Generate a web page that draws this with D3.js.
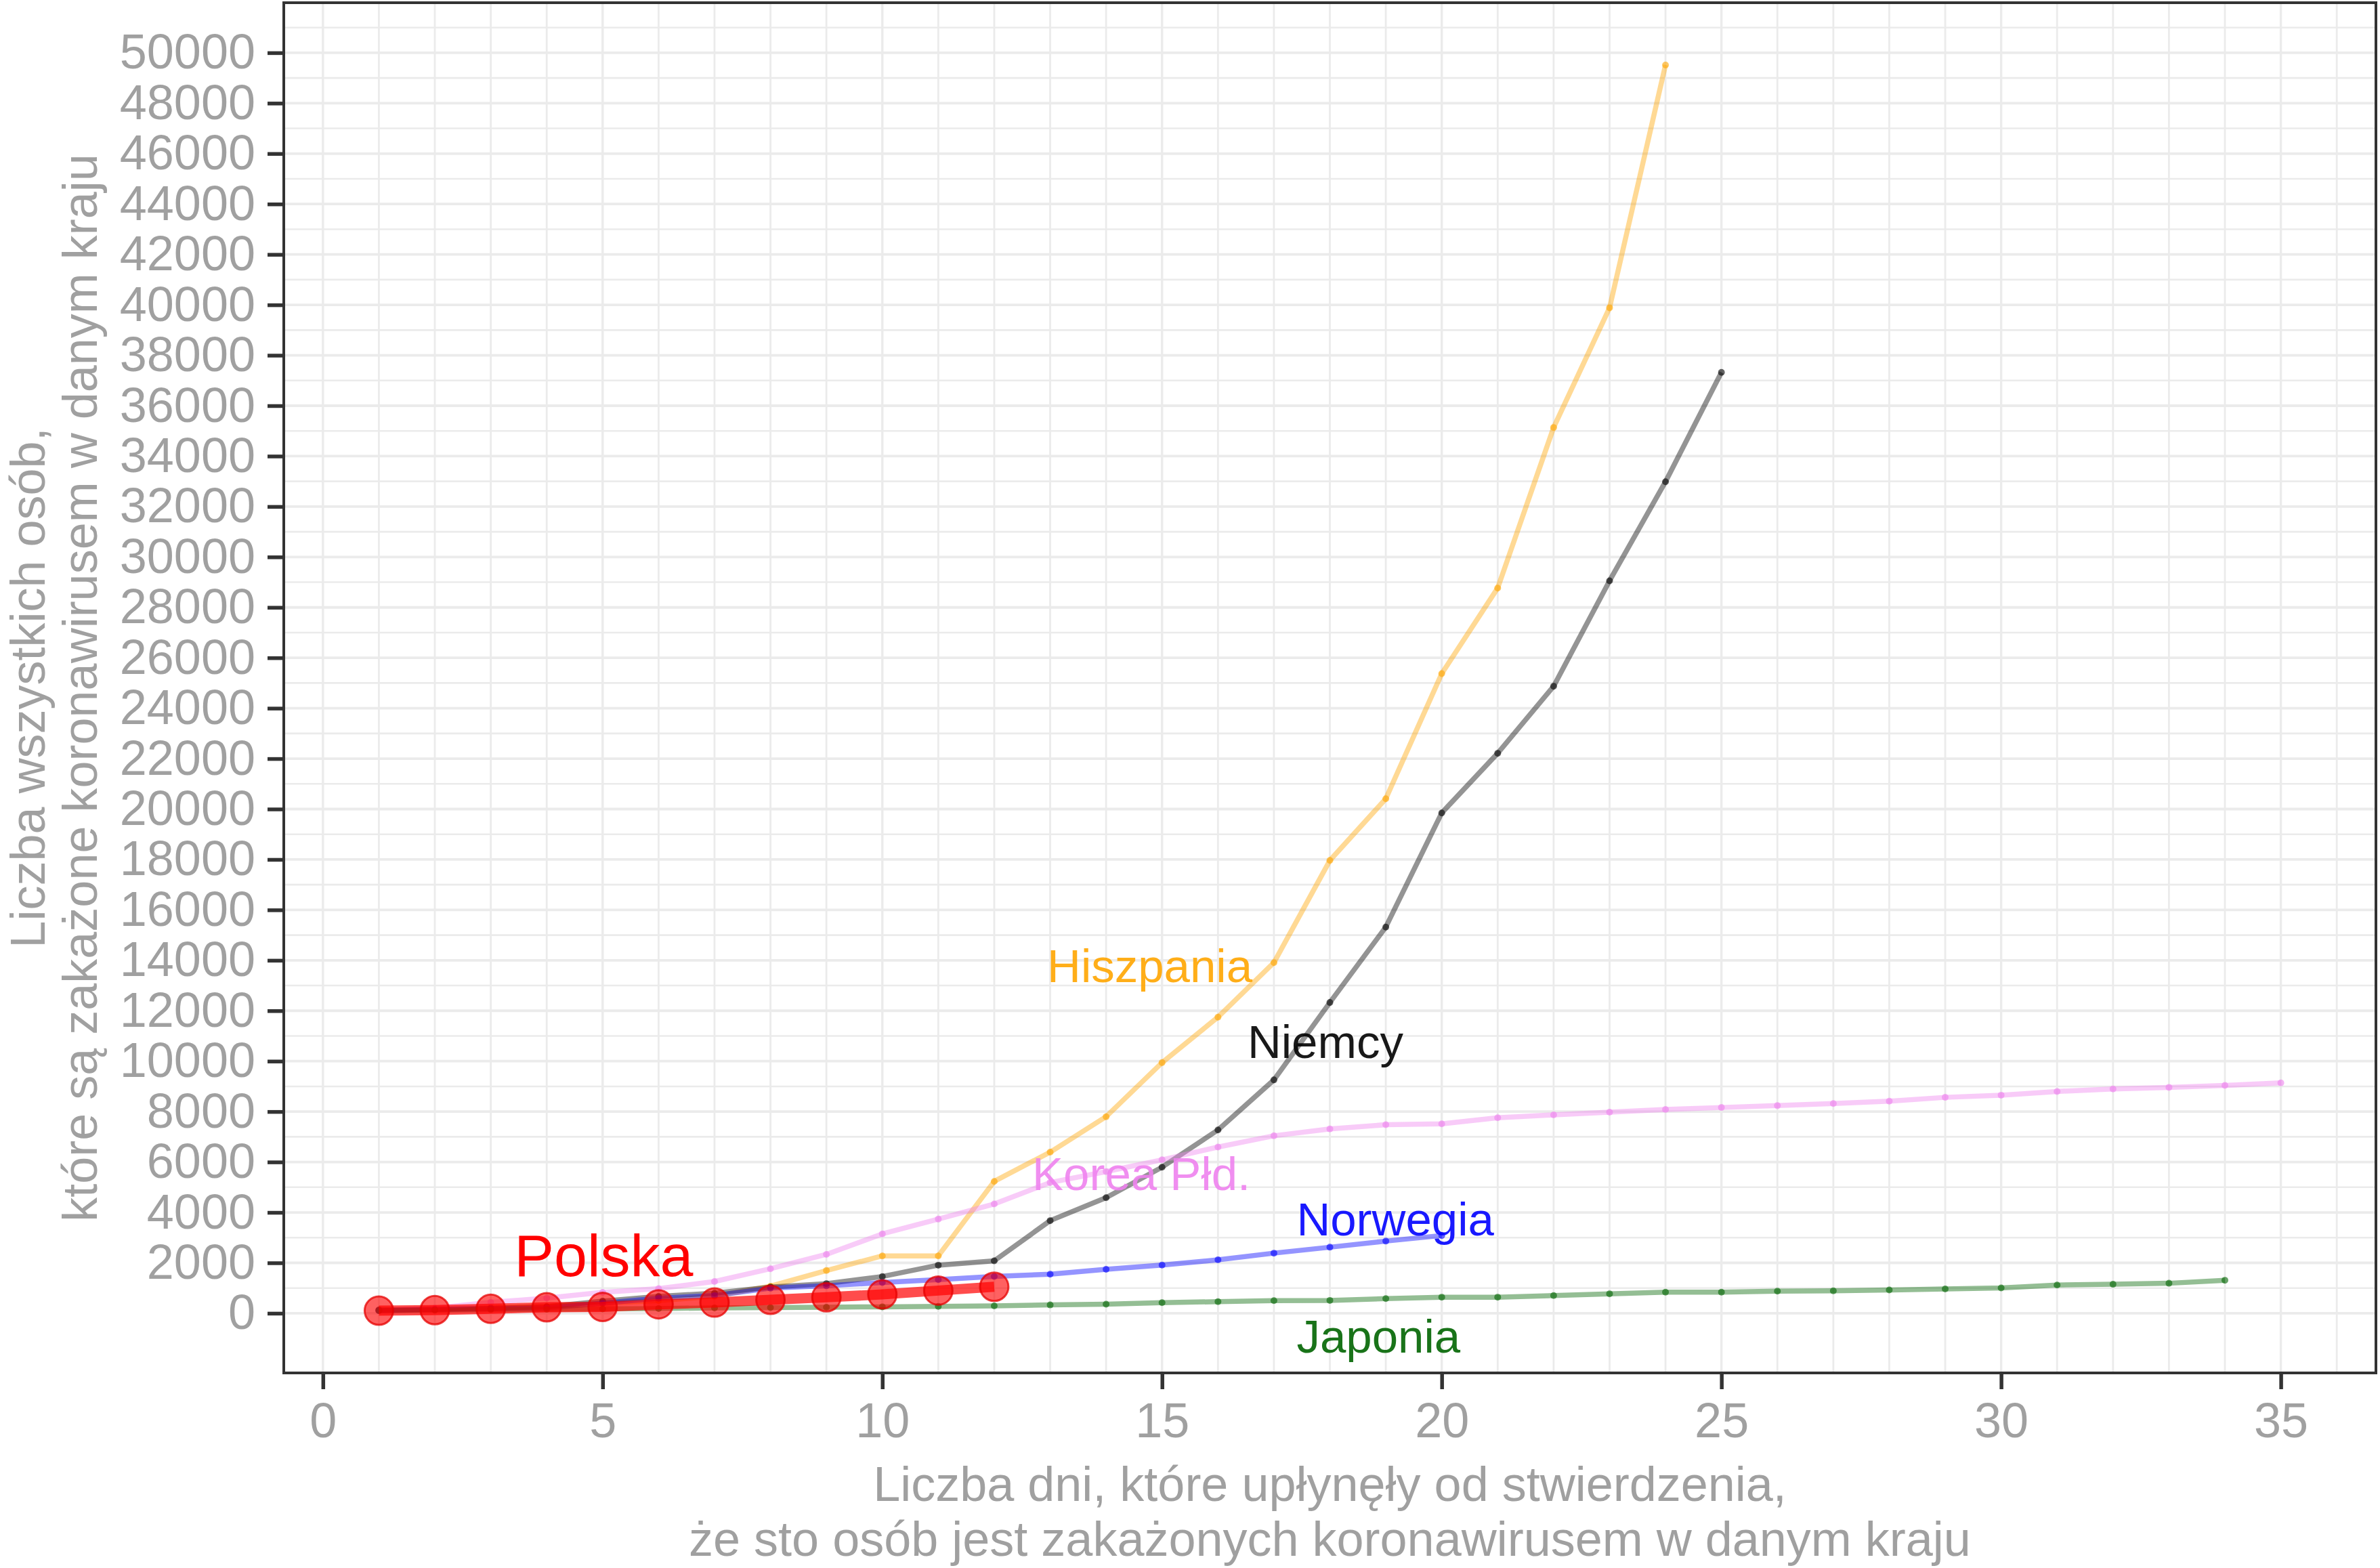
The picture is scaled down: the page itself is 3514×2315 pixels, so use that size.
<!DOCTYPE html>
<html>
<head>
<meta charset="utf-8">
<script src="https://cdn.jsdelivr.net/npm/d3@7"></script>
<style>
  html, body { margin: 0; padding: 0; background: #ffffff; }
  svg { display: block; }
  text { font-family: "Liberation Sans", Arial, sans-serif; }
</style>
</head>
<body>
<svg id="chart" width="3514" height="2315"></svg>
<script>
// ---- data (cumulative cases, day 1 = first day with >= 100 cases) ----
const spain   = [120,165,222,259,400,500,673,1073,1695,2277,2277,5232,6391,7798,9942,11748,13910,17963,20410,25374,28768,35136,39885,49515];
const germany = [130,159,196,262,482,670,799,1040,1176,1457,1908,2078,3675,4585,5795,7272,9257,12327,15320,19848,22213,24873,29056,32986,37323];
const korea   = [104,204,433,602,833,977,1261,1766,2337,3150,3736,4335,5186,5621,6088,6593,7041,7314,7478,7513,7755,7869,7979,8086,8162,8236,8320,8413,8565,8652,8799,8897,8961,9037,9137];
const norway  = [108,147,176,205,400,598,702,996,1090,1221,1333,1463,1550,1746,1914,2118,2385,2621,2863,3084];
const japan   = [105,122,147,159,170,189,214,228,241,256,274,293,331,360,420,461,502,511,581,639,639,701,773,839,839,878,889,924,963,1007,1120,1150,1190,1310];
const poland  = [104,125,177,238,251,355,425,536,634,749,901,1051];

const seriesNames  = ["Hiszpania","Niemcy","Korea Płd.","Norwegia","Japonia"];
const seriesValues = [spain, germany, korea, norway, japan];
const seriesColors = ["orange","black","violet","blue","darkgreen"];

// label anchor positions (data units: day, cases)
const labelX = [14.78, 17.92, 14.63, 19.17, 18.87];
const labelY = [13800, 10790, 5560, 3760, -910];
const polandLabel = {text: "Polska", x: 5.02, y: 2320};

const xTicks = [0,5,10,15,20,25,30,35];
const yTicks = d3.range(0, 50001, 2000);
const xMinor = d3.range(0, 37, 1);
const yMinor = d3.range(1000, 52000, 2000);

const xTitle = ["Liczba dni, które upłynęły od stwierdzenia,",
                "że sto osób jest zakażonych koronawirusem w danym kraju"];
const yTitle = ["Liczba wszystkich osób,",
                "które są zakażone koronawirusem w danym kraju"];

// ---- layout ----
const svg = d3.select("#chart");
svg.append("rect").attr("width", 3514).attr("height", 2315).attr("fill", "#ffffff");

const P = {left: 419, right: 3508, top: 4, bottom: 2027};
const x = d3.scaleLinear().domain([1 - 0.05*34, 35 + 0.05*34]).range([P.left, P.right]);
const yMin = 104, yMax = 49515, R = yMax - yMin;
const y = d3.scaleLinear().domain([yMin - 0.05*R, yMax + 0.05*R]).range([P.bottom, P.top]);

const grey = "#a0a0a0";
const g = svg.append("g");

// grid
g.selectAll(".xminor").data(xMinor.filter(d => d % 5 !== 0)).enter().append("line")
  .attr("x1", d => x(d)).attr("x2", d => x(d)).attr("y1", P.top).attr("y2", P.bottom)
  .attr("stroke", "#ebebeb").attr("stroke-width", 2.8);
g.selectAll(".xmajor").data(xTicks).enter().append("line")
  .attr("x1", d => x(d)).attr("x2", d => x(d)).attr("y1", P.top).attr("y2", P.bottom)
  .attr("stroke", "#ebebeb").attr("stroke-width", 3.4);
g.selectAll(".yminor").data(yMinor).enter().append("line")
  .attr("x1", P.left).attr("x2", P.right).attr("y1", d => y(d)).attr("y2", d => y(d))
  .attr("stroke", "#ebebeb").attr("stroke-width", 2.6);
g.selectAll(".ymajor").data(yTicks).enter().append("line")
  .attr("x1", P.left).attr("x2", P.right).attr("y1", d => y(d)).attr("y2", d => y(d))
  .attr("stroke", "#ebebeb").attr("stroke-width", 3.8);

// series lines & points
const line = d3.line().x((d, i) => x(i + 1)).y(d => y(d));
seriesValues.forEach((vals, k) => {
  g.append("path").datum(vals).attr("d", line)
    .attr("fill", "none").attr("stroke", seriesColors[k]).attr("stroke-opacity", 0.42)
    .attr("stroke-width", 7.5).attr("stroke-linejoin", "round");
  g.selectAll(null).data(vals).enter().append("circle")
    .attr("cx", (d, i) => x(i + 1)).attr("cy", d => y(d)).attr("r", 5)
    .attr("fill", seriesColors[k]).attr("fill-opacity", 0.6);
});

// Poland
g.append("path").datum(poland).attr("d", line)
  .attr("fill", "none").attr("stroke", "red").attr("stroke-opacity", 0.7)
  .attr("stroke-width", 15).attr("stroke-linejoin", "round");
g.selectAll(null).data(poland).enter().append("circle")
  .attr("cx", (d, i) => x(i + 1)).attr("cy", d => y(d)).attr("r", 21)
  .attr("fill", "red").attr("fill-opacity", 0.62)
  .attr("stroke", "#e60000").attr("stroke-opacity", 0.75).attr("stroke-width", 3);

// labels
seriesNames.forEach((name, k) => {
  g.append("text").attr("x", x(labelX[k])).attr("y", y(labelY[k]))
    .attr("dy", "0.358em").attr("text-anchor", "middle")
    .attr("font-size", 69).attr("fill", seriesColors[k]).attr("fill-opacity", 0.9)
    .text(name);
});
g.append("text").attr("x", x(polandLabel.x)).attr("y", y(polandLabel.y))
  .attr("dy", "0.358em").attr("text-anchor", "middle")
  .attr("font-size", 88).attr("fill", "red").text(polandLabel.text);

// panel border
svg.append("rect").attr("x", P.left).attr("y", P.top)
  .attr("width", P.right - P.left).attr("height", P.bottom - P.top)
  .attr("fill", "none").attr("stroke", "#333333").attr("stroke-width", 4);

// axes
const xAxis = d3.axisBottom(x).tickValues(xTicks).tickSize(24).tickPadding(20).tickFormat(d3.format("d"));
const yAxis = d3.axisLeft(y).tickValues(yTicks).tickSize(24).tickPadding(18).tickFormat(d3.format("d"));
const gx = svg.append("g").attr("transform", `translate(0,${P.bottom})`).call(xAxis);
const gy = svg.append("g").attr("transform", `translate(${P.left},0)`).call(yAxis);
[gx, gy].forEach(a => {
  a.select(".domain").remove();
  a.selectAll(".tick line").attr("stroke", "#333333").attr("stroke-width", 5.5);
  a.selectAll(".tick text").attr("fill", grey).attr("font-size", 72)
    .attr("font-family", "'Liberation Sans', Arial, sans-serif");
});
gx.selectAll(".tick text").attr("dy", "0.71em");

// axis titles
const cx = (P.left + P.right) / 2;
svg.append("text").attr("x", cx).attr("y", 2216).attr("text-anchor", "middle")
  .attr("font-size", 72).attr("fill", grey).text(xTitle[0]);
svg.append("text").attr("x", cx).attr("y", 2297).attr("text-anchor", "middle")
  .attr("font-size", 72).attr("fill", grey).text(xTitle[1]);
const cy = (P.top + P.bottom) / 2;
svg.append("text").attr("transform", `translate(66,${cy}) rotate(-90)`).attr("text-anchor", "middle")
  .attr("font-size", 72).attr("fill", grey).text(yTitle[0]);
svg.append("text").attr("transform", `translate(143,${cy}) rotate(-90)`).attr("text-anchor", "middle")
  .attr("font-size", 72).attr("fill", grey).text(yTitle[1]);
</script>
</body>
</html>
